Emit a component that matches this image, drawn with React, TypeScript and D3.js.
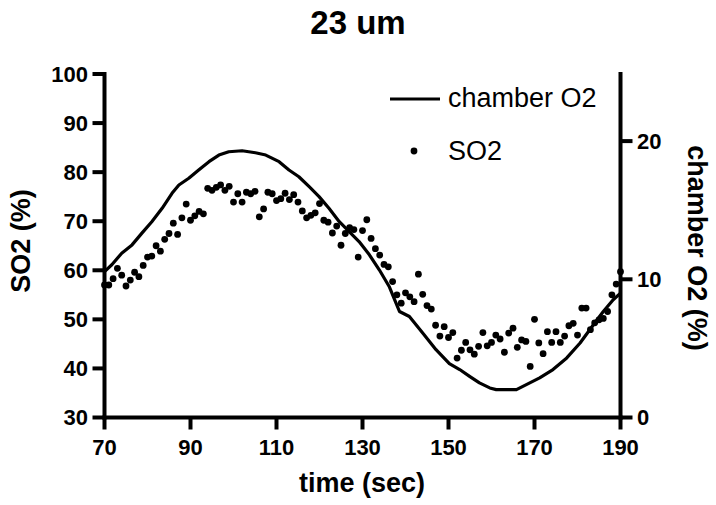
import React from "react";
import * as d3 from "d3";

// ---- data ----
const so2Start = 70; // seconds, 1 s step
const so2Values: number[] = [
  57.0, 57.0, 58.3, 60.4, 59.0, 56.8, 58.0, 59.6, 58.7, 61.0,
  62.7, 62.9, 65.0, 63.9, 66.3, 67.5, 69.6, 67.3, 70.7, 73.5,
  70.2, 71.1, 72.0, 71.5, 76.7, 76.3, 76.9, 77.4, 76.3, 77.1,
  73.9, 75.6, 73.9, 75.9, 75.6, 76.1, 70.9, 72.5, 75.9, 75.6,
  74.2, 74.6, 75.7, 74.4, 75.4, 73.9, 72.1, 70.7, 71.2, 71.7,
  73.6, 70.2, 69.8, 67.6, 69.0, 65.1, 67.5, 68.7, 68.3, 62.7,
  68.1, 70.3, 66.5, 64.4, 63.1, 61.2, 60.7, 57.7, 55.0, 53.3,
  55.4, 54.6, 53.6, 59.2, 55.1, 52.8, 52.1, 48.8, 46.6, 48.5,
  46.3, 47.3, 42.1, 43.7, 45.3, 43.8, 42.9, 44.5, 47.3, 44.6,
  45.3, 46.8, 46.0, 43.3, 47.2, 48.2, 44.3, 45.8, 45.5, 40.4,
  50.0, 45.2, 43.0, 47.5, 45.3, 47.5, 45.3, 46.6, 48.7, 49.2,
  46.8, 52.3, 52.3, 47.9, 49.3, 49.9, 50.2, 51.6, 55.0, 57.2,
  59.7,
];

const chamberTime: number[] = [
  70, 71.7, 74.0, 76.4, 78.7, 81.0, 83.4, 85.7, 87.3, 89.6,
  91.9, 94.3, 96.6, 98.9, 102.0, 105.1, 107.5, 110.6, 112.9, 115.2,
  117.6, 119.9, 122.2, 124.6, 126.9, 129.2, 131.6, 133.9, 136.2, 137.8,
  138.6, 140.9, 144.0, 147.1, 150.2, 152.6, 154.9, 157.2, 159.6, 161.1,
  165.8, 168.1, 171.2, 174.3, 177.5, 180.6, 183.7, 186.0, 188.3, 190,
];
const chamberO2: number[] = [
  10.56, 11.05, 11.89, 12.49, 13.34, 14.17, 15.14, 16.22, 16.82, 17.31,
  17.91, 18.51, 18.99, 19.23, 19.30, 19.16, 18.99, 18.51, 17.91, 17.42,
  16.70, 15.98, 15.14, 14.17, 13.45, 12.73, 11.77, 10.69, 9.48, 8.28,
  7.67, 7.31, 6.12, 4.91, 3.90, 3.47, 2.98, 2.51, 2.14, 2.02,
  2.02, 2.38, 2.87, 3.47, 4.31, 5.39, 6.71, 7.67, 8.52, 9.00,
];

const xTicks = [70, 90, 110, 130, 150, 170, 190];
const leftTicks = [30, 40, 50, 60, 70, 80, 90, 100];
const rightTicks = [0, 10, 20];

const title = "23 um";
const xTitle = "time (sec)";
const leftTitle = "SO2 (%)";
const rightTitle = "chamber O2 (%)";
const legendLine = "chamber O2";
const legendDot = "SO2";

export default function App() {
  const W = 716;
  const H = 505;
  const font = "Arial, 'Liberation Sans', sans-serif";

  const x = d3.scaleLinear().domain([70, 190]).range([104.5, 620.5]);
  const yL = d3.scaleLinear().domain([30, 100]).range([417.5, 74]);
  const yR = d3.scaleLinear().domain([0, 25]).range([417.5, 72]);

  const dots = so2Values.map((v, i) => ({ t: so2Start + i, v }));
  const lineData = chamberTime.map((t, i) => ({ t, v: chamberO2[i] }));
  const lineGen = d3
    .line<{ t: number; v: number }>()
    .x((d) => x(d.t))
    .y((d) => yR(d.v));

  const axisW = 4;
  const tickLen = 12;

  return (
    <div style={{ position: "absolute", left: 0, top: 0 }}>
      <svg width={W} height={H} style={{ display: "block", background: "#fff" }}>
        <rect x={0} y={0} width={W} height={H} fill="#fff" />
        {/* title */}
        <text x={358} y={34} textAnchor="middle" fontFamily={font} fontWeight="bold" fontSize={33} fill="#000">
          {title}
        </text>

        {/* chamber O2 line */}
        <path d={lineGen(lineData) || ""} fill="none" stroke="#000" strokeWidth={3.2} strokeLinejoin="round" />

        {/* SO2 dots */}
        {dots.map((d, i) => (
          <circle key={i} cx={x(d.t)} cy={yL(d.v)} r={3.4} fill="#000" />
        ))}

        {/* left axis */}
        <line x1={x(70)} x2={x(70)} y1={72} y2={yL(30) + 2} stroke="#000" strokeWidth={axisW} />
        {leftTicks.map((t) => (
          <g key={"l" + t}>
            <line x1={x(70) - tickLen} x2={x(70)} y1={yL(t)} y2={yL(t)} stroke="#000" strokeWidth={axisW} />
            <text x={88} y={yL(t)} dy="0.36em" textAnchor="end" fontFamily={font} fontWeight="bold" fontSize={22} fill="#000">
              {t}
            </text>
          </g>
        ))}

        {/* right axis */}
        <line x1={x(190)} x2={x(190)} y1={72} y2={yL(30) + 2} stroke="#000" strokeWidth={axisW} />
        {rightTicks.map((t) => (
          <g key={"r" + t}>
            <line x1={x(190)} x2={x(190) + tickLen} y1={yR(t)} y2={yR(t)} stroke="#000" strokeWidth={axisW} />
            <text x={637} y={yR(t)} dy="0.36em" textAnchor="start" fontFamily={font} fontWeight="bold" fontSize={22} fill="#000">
              {t}
            </text>
          </g>
        ))}

        {/* bottom axis */}
        <line x1={x(70) - 2} x2={x(190) + 2} y1={yL(30)} y2={yL(30)} stroke="#000" strokeWidth={axisW} />
        {xTicks.map((t) => (
          <g key={"x" + t}>
            <line x1={x(t)} x2={x(t)} y1={yL(30)} y2={yL(30) + tickLen} stroke="#000" strokeWidth={axisW} />
            <text x={x(t)} y={455} textAnchor="middle" fontFamily={font} fontWeight="bold" fontSize={22} fill="#000">
              {t}
            </text>
          </g>
        ))}

        {/* axis titles */}
        <text x={362} y={492} textAnchor="middle" fontFamily={font} fontWeight="bold" fontSize={27} fill="#000">
          {xTitle}
        </text>
        <text
          transform="translate(21,241) rotate(-90)"
          textAnchor="middle"
          dy="0.35em"
          fontFamily={font}
          fontWeight="bold"
          fontSize={27}
          fill="#000"
        >
          {leftTitle}
        </text>
        <text
          transform="translate(697,248) rotate(90)"
          textAnchor="middle"
          dy="0.35em"
          fontFamily={font}
          fontWeight="bold"
          fontSize={27}
          fill="#000"
        >
          {rightTitle}
        </text>

        {/* legend */}
        <line x1={390} x2={440} y1={99} y2={99} stroke="#000" strokeWidth={3.2} />
        <text x={448} y={107} fontFamily={font} fontSize={27} fill="#000">
          {legendLine}
        </text>
        <circle cx={414} cy={151} r={3.4} fill="#000" />
        <text x={448} y={160} fontFamily={font} fontSize={27} fill="#000">
          {legendDot}
        </text>
      </svg>
    </div>
  );
}
